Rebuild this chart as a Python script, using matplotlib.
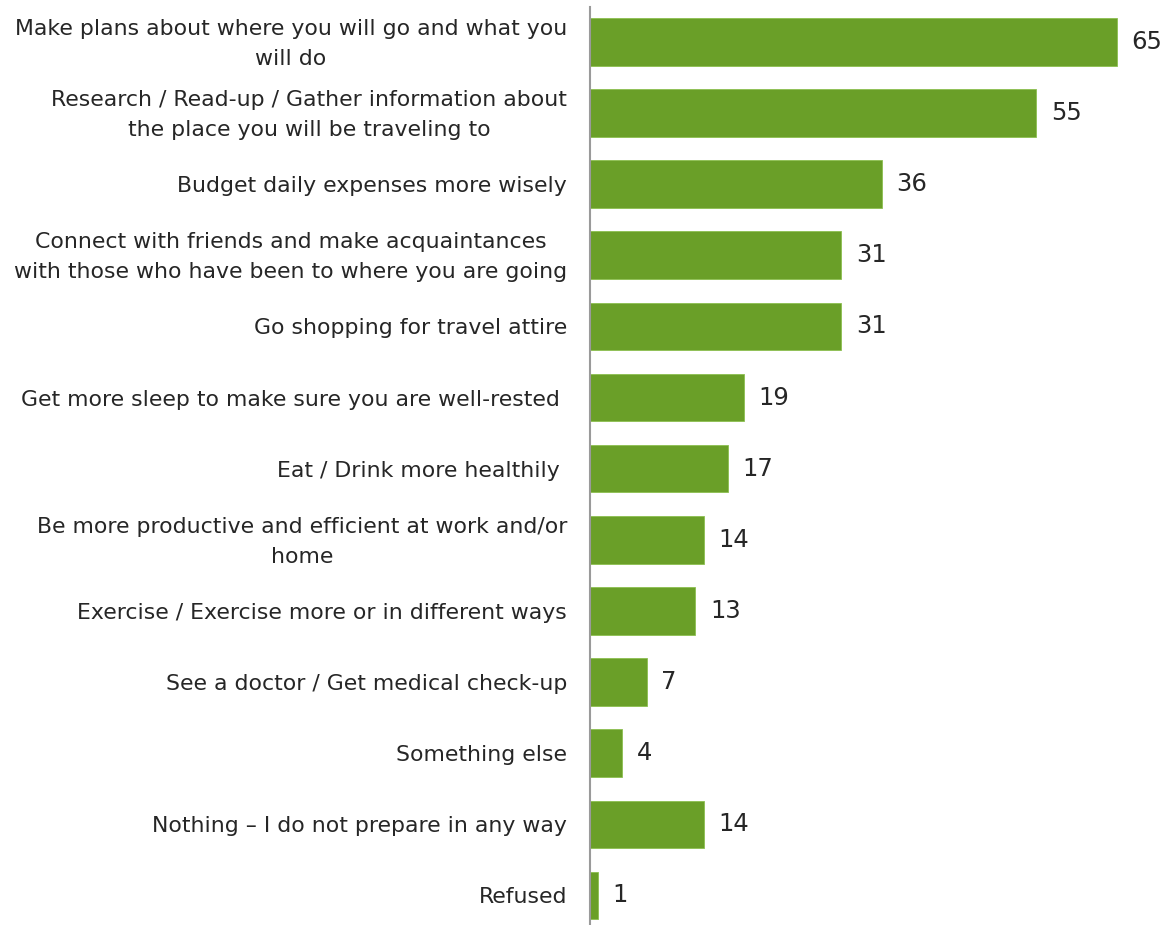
import matplotlib.pyplot as plt
from matplotlib.transforms import ScaledTranslation

# Survey answers, top to bottom
labels = [
    "Make plans about where you will go and what you\nwill do",
    "Research / Read-up / Gather information about\nthe place you will be traveling to",
    "Budget daily expenses more wisely",
    "Connect with friends and make acquaintances\nwith those who have been to where you are going",
    "Go shopping for travel attire",
    "Get more sleep to make sure you are well-rested ",
    "Eat / Drink more healthily ",
    "Be more productive and efficient at work and/or\nhome",
    "Exercise / Exercise more or in different ways",
    "See a doctor / Get medical check-up",
    "Something else",
    "Nothing \u2013 I do not prepare in any way",
    "Refused",
]
values = [65, 55, 36, 31, 31, 19, 17, 14, 13, 7, 4, 14, 1]

bar_color = "#6a9f28"
text_color = "#262626"

fig = plt.figure(figsize=(11.65, 9.25), dpi=100)
ax = fig.add_axes([590 / 1165, 0.0, 1 - 590 / 1165, 918 / 925])

pos = list(range(len(values)))
ax.barh(pos, values, height=0.67, color=bar_color, edgecolor="#8cbf50", linewidth=0.6)

ax.set_ylim(12.415, -0.49)
ax.set_xlim(0, 70.9)

for y, v in zip(pos, values):
    ax.text(v + 1.8, y, str(v), va="center", ha="left", fontsize=17.5,
            color=text_color)

ax.set_yticks(pos)
ax.set_yticklabels(labels, fontsize=15.8, color=text_color, va="center",
                   ha="right", multialignment="center", linespacing=1.6)
ax.tick_params(axis="y", length=0, pad=16.5)
ax.set_xticks([])

# nudge the category labels down a little
shift = ScaledTranslation(0, -2 / 100, fig.dpi_scale_trans)
for lab in ax.get_yticklabels():
    lab.set_transform(lab.get_transform() + shift)

for side in ["top", "right", "bottom"]:
    ax.spines[side].set_visible(False)
ax.spines["left"].set_color("#9a9a9a")
ax.spines["left"].set_linewidth(1.5)

fig.savefig("out.png", dpi=100)
